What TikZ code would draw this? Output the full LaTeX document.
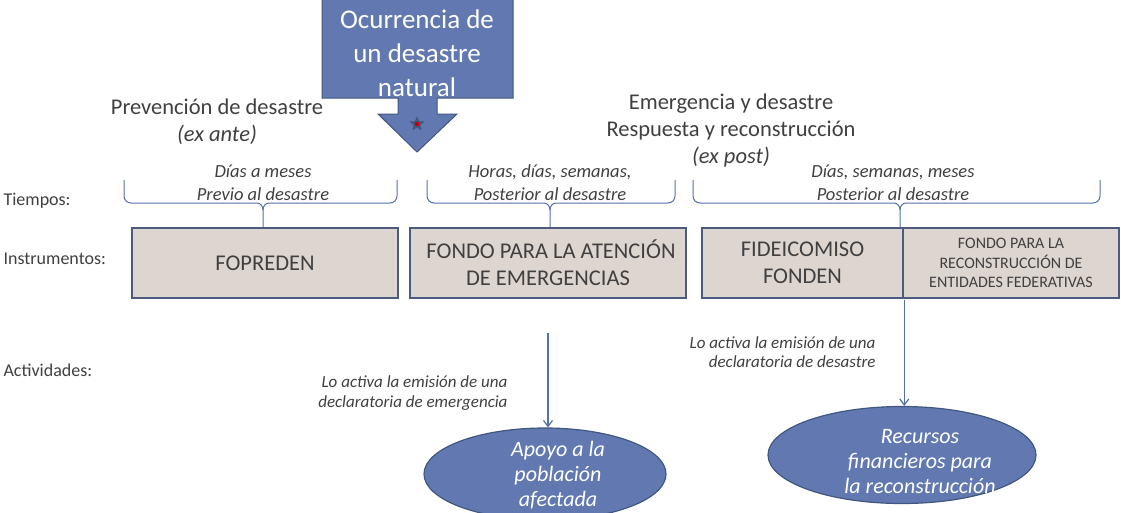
\documentclass[tikz,border=0pt]{standalone}
\usepackage{fontspec}
\setmainfont{Carlito}
\usetikzlibrary{shapes.geometric,arrows.meta}
\definecolor{bluefill}{HTML}{6179B0}
\definecolor{blueline}{HTML}{41577F}
\definecolor{boxfill}{HTML}{DDD5D0}
\definecolor{boxline}{HTML}{4B5A7D}
\definecolor{txt}{HTML}{404040}
\definecolor{bracec}{HTML}{5470A8}
\tikzset{
  fs/.style n args={2}{font=\fontsize{#1}{#2}\selectfont},
  fsi/.style n args={2}{font=\fontsize{#1}{#2}\selectfont\itshape},
  instbox/.style={draw=boxline, line width=2.5pt, fill=boxfill, text=txt, align=center, inner sep=0pt},
  actell/.style={ellipse, draw=blueline, line width=1.2pt, fill=bluefill, inner sep=0pt},
  lbl/.style={text=txt, align=left, anchor=west, fs={18}{21}},
  hdr/.style={text=txt, align=center, fs={22.5}{27}},
  brtxt/.style={text=txt, align=center, fsi={18.5}{23}},
  bracepath/.style={draw=bracec, line width=1pt},
  conn/.style={draw=bracec, line width=1.2pt, -{Straight Barb[length=6pt,width=9pt]}},
  note/.style={text=txt, align=right, anchor=east, fsi={17}{19.5}},
  elltxt/.style={text=white, align=center, fsi={22}{25}}
}
\begin{document}
\begin{tikzpicture}[x=1pt,y=-1pt]
\useasboundingbox (0,0) rectangle (1121,512);
% main event arrow
\draw[blueline, line width=1pt, fill=bluefill] (322,-2) -- (513,-2) -- (513,98) -- (437,98) -- (437,114) -- (457,114) -- (417,152) -- (378,114) -- (398,114) -- (398,98) -- (322,98) -- cycle;
\node[text=white, align=center, fs={27}{34}] (event) at (417,53) {Ocurrencia de\\un desastre\\natural};
\node[star, star points=5, star point ratio=2.3, fill=blueline, minimum size=16pt, inner sep=0pt] (star) at (417,124) {};
\fill[red!80!black] (star.center) circle (2.2);
% headers
\node[hdr] (prev) at (217,122) {Prevención de desastre\\\textit{(ex ante)}};
\node[hdr] (emer) at (731,130) {Emergencia y desastre\\Respuesta y reconstrucción\\\textit{(ex post)}};
% row labels
\node[lbl] (tiempos) at (0,201) {Tiempos:};
\node[lbl] (instr) at (0,259) {Instrumentos:};
\node[lbl] (activ) at (0,370) {Actividades:};
% braces
\foreach \xa/\xc/\xb in {124/263/397, 427/550/675, 693/900/1100}{
  \draw[bracepath] (\xa,180) -- (\xa,196) to[out=-90,in=180] (\xa+7,203) -- (\xc-6,203) to[out=0,in=90] (\xc,210) -- (\xc,228);
  \draw[bracepath] (\xb,180) -- (\xb,196) to[out=-90,in=0] (\xb-7,203) -- (\xc+6,203) to[out=180,in=90] (\xc,210);
}
\node[brtxt] (t1) at (263,183) {Días a meses\\Previo al desastre};
\node[brtxt] (t2) at (550,183) {Horas, días, semanas,\\Posterior al desastre};
\node[brtxt] (t3) at (893,183) {Días, semanas, meses\\Posterior al desastre};
% instrument boxes
\node[instbox, minimum width=266pt, minimum height=70pt, fs={22.5}{27}] (fopreden) at (265,263) {FOPREDEN};
\node[instbox, minimum width=276pt, minimum height=70pt, fs={22.5}{27}] (fonden1) at (548,263) {\hspace*{6pt}FONDO PARA LA ATENCIÓN\\DE EMERGENCIAS};
\node[instbox, minimum width=201pt, minimum height=70pt, fs={22.5}{27}] (fideic) at (802.5,263) {FIDEICOMISO\\FONDEN};
\node[instbox, minimum width=216pt, minimum height=70pt, fs={16}{19.5}] (fonrec) at (1011,263) {FONDO PARA LA\\RECONSTRUCCIÓN DE\\ENTIDADES FEDERATIVAS};
% activity ellipses
\node[actell, minimum width=242pt, minimum height=92pt] (apoyo) at (545,474) {};
\node[elltxt] (apoyotxt) at (558,475) {Apoyo a la\\población\\afectada};
\node[actell, minimum width=268pt, minimum height=97pt] (recursos) at (902,455) {};
\node[elltxt] (recursostxt) at (920,462) {Recursos\\financieros para\\la reconstrucción};
% connectors
\coordinate (c1) at (548,333);
\draw[conn] (c1) -- (apoyo.north -| c1);
\draw[conn] (fideic.south east) ++(0,1) -- (recursos.north -| fideic.south east);
% notes
\node[note] (n1) at (511,393) {Lo activa la emisión de una\\declaratoria de emergencia};
\node[note] (n2) at (879,352) {Lo activa la emisión de una\\declaratoria de desastre};
\end{tikzpicture}
\end{document}
